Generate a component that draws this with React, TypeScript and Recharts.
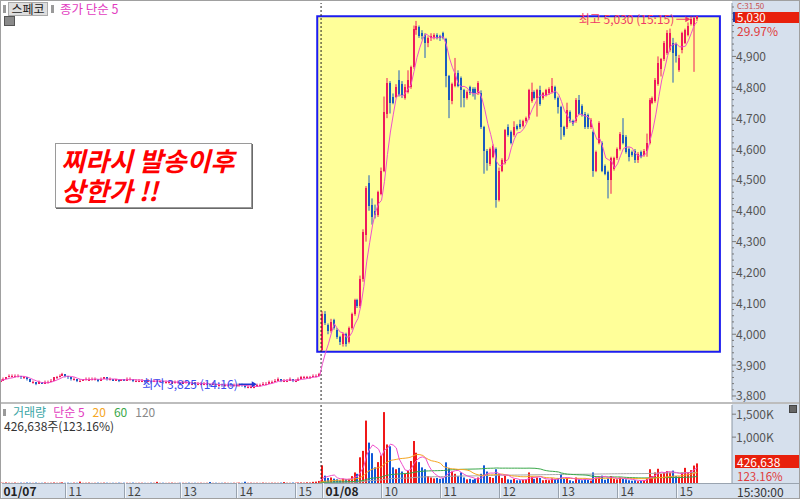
import React from "react";
import {
  Bar,
  ComposedChart,
  Line,
  ReferenceArea,
  ReferenceDot,
  ReferenceLine,
  XAxis,
  YAxis,
} from "recharts";

// 3-minute candles as [open, high, low, close]; 01/07 is a thin session (no trade in some slots)
const day1Bars = [
  [3845, 3855, 3845, 3850], [3850, 3860, 3850, 3855], [3855, 3860, 3855, 3860], [3860, 3870, 3860, 3865], [3865, 3870, 3860, 3865],
  [3860, 3870, 3860, 3865], [3865, 3870, 3860, 3865], [3865, 3865, 3855, 3860], [3860, 3865, 3855, 3860], [3860, 3860, 3850, 3855],
  [3855, 3855, 3845, 3845], [3845, 3850, 3840, 3845], [3845, 3845, 3835, 3840], [3840, 3850, 3840, 3845], [3845, 3845, 3840, 3840],
  [3840, 3850, 3840, 3845], [3845, 3850, 3840, 3845], [3845, 3855, 3845, 3850], [3850, 3860, 3850, 3860], [3860, 3865, 3855, 3860],
  [3860, 3870, 3860, 3865], [3865, 3875, 3865, 3870], [3870, 3870, 3860, 3865], [3865, 3865, 3855, 3860], [3860, 3860, 3850, 3855],
  [3855, 3860, 3850, 3855], [3855, 3855, 3845, 3850], [3850, 3855, 3845, 3850], [3850, 3855, 3850, 3855], [3855, 3860, 3850, 3855],
  [3850, 3860, 3850, 3855], [3855, 3860, 3850, 3855], [3855, 3860, 3850, 3855], [3855, 3855, 3845, 3850], [3850, 3860, 3850, 3855],
  [3855, 3860, 3855, 3860], [3860, 3860, 3850, 3855], [3855, 3860, 3850, 3855], [3855, 3855, 3850, 3850], [3850, 3855, 3850, 3855],
  [3855, 3855, 3845, 3850], [3850, 3855, 3850, 3855], [3855, 3855, 3850, 3850], [3850, 3860, 3850, 3855], [3855, 3860, 3850, 3855],
  [3855, 3855, 3845, 3850], [3850, 3855, 3845, 3850], [3850, 3855, 3845, 3850], [3850, 3855, 3845, 3850], [3850, 3850, 3840, 3845],
  [3845, 3855, 3845, 3850], [3850, 3850, 3840, 3845], [3845, 3855, 3845, 3850], [3850, 3855, 3845, 3850], [3845, 3850, 3845, 3850],
  [3850, 3850, 3840, 3845], [3845, 3850, 3840, 3845], [3845, 3850, 3840, 3845], [3840, 3850, 3840, 3845], [3845, 3850, 3840, 3845],
  [3845, 3850, 3840, 3845], [3845, 3845, 3835, 3840], [3840, 3850, 3840, 3845], [3845, 3850, 3840, 3845], [3845, 3845, 3835, 3840],
  [3840, 3845, 3835, 3840], [3845, 3845, 3835, 3840], [3840, 3845, 3835, 3840], [3835, 3845, 3835, 3840], [3835, 3845, 3835, 3840],
  [3840, 3845, 3835, 3840], [3840, 3840, 3830, 3835], [3835, 3845, 3835, 3840], [3840, 3840, 3830, 3835], [3835, 3840, 3830, 3835],
  [3840, 3840, 3830, 3835], [3835, 3840, 3830, 3835], [3835, 3840, 3830, 3835], [3840, 3840, 3830, 3835], [3835, 3840, 3830, 3835],
  [3835, 3840, 3830, 3835], [3835, 3840, 3830, 3835], [3840, 3840, 3830, 3835], [3835, 3835, 3825, 3830], [3830, 3835, 3825, 3830],
  [3830, 3835, 3825, 3830], [3830, 3835, 3825, 3830], [3830, 3840, 3830, 3835], [3835, 3840, 3830, 3835], [3835, 3845, 3835, 3840],
  [3840, 3845, 3835, 3840], [3840, 3850, 3840, 3845], [3845, 3850, 3840, 3845], [3845, 3855, 3845, 3850], [3850, 3860, 3850, 3855],
  [3855, 3855, 3845, 3850], [3850, 3855, 3845, 3850], [3850, 3855, 3845, 3850], [3850, 3860, 3850, 3855], [3855, 3855, 3845, 3850],
  [3850, 3855, 3845, 3850], [3850, 3860, 3850, 3855], [3855, 3865, 3855, 3860], [3860, 3865, 3855, 3860], [3860, 3865, 3855, 3860],
  [3860, 3865, 3855, 3860], [3860, 3870, 3860, 3865], [3865, 3870, 3860, 3865], [3865, 3875, 3865, 3870],
];

const day2Bars = [
  [3950, 4075, 3945, 4065], [4065, 4075, 4030, 4035], [4030, 4035, 4000, 4010], [4010, 4050, 4005, 4040], [4045, 4050, 4015, 4020],
  [4015, 4020, 3985, 3990], [3990, 3995, 3965, 3975], [3970, 4005, 3960, 4000], [4000, 4005, 3960, 3970], [3975, 4025, 3970, 4020],
  [4020, 4070, 4015, 4065], [4065, 4115, 4060, 4110], [4110, 4115, 4085, 4090], [4090, 4190, 4085, 4180], [4180, 4340, 4170, 4330],
  [4320, 4480, 4300, 4475], [4490, 4515, 4400, 4415], [4420, 4440, 4355, 4380], [4400, 4420, 4375, 4385], [4385, 4465, 4380, 4460],
  [4455, 4540, 4450, 4530], [4530, 4770, 4525, 4720], [4715, 4830, 4700, 4815], [4815, 4820, 4715, 4750], [4770, 4780, 4745, 4750],
  [4770, 4810, 4765, 4800], [4825, 4855, 4770, 4775], [4810, 4820, 4765, 4775], [4765, 4810, 4760, 4800], [4785, 4855, 4780, 4825],
  [4800, 4870, 4795, 4865], [4865, 5000, 4860, 4990], [4985, 5015, 4970, 5000], [4995, 5000, 4960, 4965], [4975, 4985, 4955, 4965],
  [4970, 4975, 4895, 4945], [4945, 4965, 4930, 4960], [4960, 4975, 4950, 4965], [4960, 4975, 4955, 4970], [4970, 4975, 4955, 4960],
  [4965, 4970, 4950, 4960], [4975, 4980, 4955, 4960], [4955, 4960, 4800, 4835], [4835, 4840, 4700, 4760], [4755, 4815, 4745, 4810],
  [4805, 4895, 4800, 4845], [4845, 4855, 4800, 4805], [4830, 4835, 4735, 4790], [4790, 4795, 4735, 4765], [4765, 4790, 4760, 4785],
  [4800, 4805, 4775, 4780], [4795, 4800, 4770, 4780], [4795, 4800, 4760, 4780], [4780, 4820, 4775, 4815], [4780, 4790, 4665, 4670],
  [4670, 4675, 4520, 4595], [4595, 4600, 4530, 4555], [4550, 4605, 4545, 4600], [4575, 4615, 4570, 4610], [4600, 4605, 4410, 4435],
  [4435, 4540, 4430, 4530], [4530, 4570, 4525, 4565], [4555, 4665, 4550, 4660], [4670, 4680, 4640, 4645], [4655, 4660, 4615, 4620],
  [4645, 4690, 4640, 4670], [4675, 4680, 4660, 4665], [4680, 4695, 4665, 4670], [4675, 4695, 4670, 4690], [4690, 4705, 4685, 4700],
  [4700, 4795, 4695, 4790], [4755, 4815, 4750, 4785], [4785, 4790, 4760, 4765], [4765, 4795, 4705, 4790], [4790, 4805, 4740, 4745],
  [4765, 4785, 4760, 4780], [4775, 4795, 4770, 4790], [4780, 4800, 4775, 4795], [4785, 4830, 4780, 4805], [4800, 4805, 4760, 4765],
  [4765, 4770, 4715, 4735], [4735, 4740, 4630, 4670], [4670, 4675, 4640, 4645], [4670, 4750, 4665, 4725], [4720, 4725, 4685, 4690],
  [4690, 4695, 4675, 4680], [4690, 4765, 4685, 4760], [4760, 4775, 4710, 4715], [4740, 4745, 4705, 4710], [4715, 4720, 4665, 4670],
  [4710, 4715, 4665, 4670], [4670, 4700, 4665, 4695], [4655, 4660, 4510, 4530], [4530, 4595, 4525, 4590], [4620, 4690, 4615, 4685],
  [4620, 4625, 4525, 4530], [4545, 4550, 4515, 4520], [4525, 4530, 4440, 4500], [4500, 4575, 4455, 4570], [4535, 4575, 4530, 4570],
  [4570, 4605, 4565, 4600], [4600, 4655, 4595, 4650], [4645, 4700, 4615, 4620], [4640, 4645, 4585, 4590], [4600, 4605, 4560, 4575],
  [4590, 4595, 4575, 4580], [4595, 4600, 4555, 4565], [4565, 4590, 4555, 4585], [4590, 4595, 4570, 4575], [4580, 4600, 4575, 4595],
  [4595, 4650, 4575, 4620], [4620, 4765, 4615, 4760], [4750, 4770, 4745, 4765], [4755, 4830, 4750, 4825], [4810, 4900, 4805, 4880],
  [4860, 4895, 4835, 4890], [4890, 4950, 4885, 4945], [4910, 4985, 4905, 4975], [4920, 4990, 4915, 4975], [4945, 4960, 4815, 4910],
  [4940, 4945, 4880, 4900], [4855, 4905, 4850, 4895], [4920, 4980, 4910, 4975], [4945, 4990, 4940, 4985], [4970, 5010, 4965, 5000],
  [5005, 5030, 5000, 5020], [5000, 5030, 4850, 5025], [5020, 5030, 5015, 5030],
];

// volume per candle, thousand shares
const day1Volume = [
  8, 5, 12, 6, 4, 9, 3, 7, 5, 10, 6, 4, 8, 3, 5, 9, 4, 6, 11, 5,
  7, 14, 4, 6, 3, 8, 5, 30, 4, 6, 9, 3, 5, 7, 4, 8, 6, 3, 5, 4,
  7, 3, 6, 5, 4, 8, 3, 5, 6, 4, 3, 7, 5, 25, 4, 6, 3, 5, 8, 4,
  3, 6, 5, 4, 7, 3, 5, 4, 6, 3, 5, 22, 4, 6, 3, 5, 7, 4, 3, 6,
  5, 8, 4, 28, 5, 7, 4, 6, 3, 9, 5, 4, 7, 6, 5, 8, 20, 6, 5, 9,
  7, 10, 12, 8, 15, 11, 25, 30, 45,
];
const day2Volume = [
  385, 160, 110, 120, 95, 80, 60, 95, 85, 90, 150, 230, 200, 560, 700, 1360, 880, 650, 340, 455,
  600, 1545, 840, 800, 340, 300, 330, 250, 200, 260, 480, 915, 660, 455, 340, 300, 150, 120, 100, 110,
  90, 110, 450, 330, 250, 200, 150, 230, 120, 80, 90, 70, 90, 120, 200, 385, 250, 130, 110, 300,
  200, 110, 160, 80, 70, 90, 60, 60, 70, 80, 230, 140, 90, 120, 110, 60, 70, 60, 100, 90,
  110, 200, 90, 110, 60, 40, 120, 80, 60, 90, 70, 50, 230, 120, 140, 160, 70, 100, 150, 90,
  80, 120, 90, 80, 60, 50, 60, 40, 50, 60, 110, 300, 150, 230, 310, 200, 230, 260, 230, 270,
  150, 140, 230, 330, 240, 280, 380, 427,
];

const hourTicks = [
  { index: 0, label: "01/07" }, { index: 22, label: "11" }, { index: 42, label: "12" },
  { index: 61, label: "13" }, { index: 80, label: "14" }, { index: 100, label: "15" },
  { index: 109, label: "01/08" }, { index: 129, label: "10" }, { index: 149, label: "11" },
  { index: 169, label: "12" }, { index: 189, label: "13" }, { index: 209, label: "14" },
  { index: 229, label: "15" },
];
const priceLabels = [3800, 3900, 4000, 4100, 4200, 4300, 4400, 4500, 4600, 4700, 4800, 4900];
const volumeLabels = [1000, 1500];

const dayBreak = 108.5;
const day2Start = 109;
const highlight = { from: 107.2, to: 243.7, low: 3943, high: 5030 };
const dayHigh = { index: 234, price: 5030, label: "최고 5,030 (15:15)" };
const dayLow = { index: 85, price: 3825, label: "최저 3,825 (14:16)" };

const X_DOMAIN = [0, 247.8];
const UP = "#ee1a5c";
const DOWN = "#1a5cc0";
const VOL_UP = "#f01818";
const VOL_DOWN = "#1058d8";
const AXIS_BG = "#d6e0ed";
const FONT = "'Noto Sans CJK KR', 'Noto Sans', sans-serif";

const bars = [...day1Bars, ...day2Bars];
const volumes = [...day1Volume, ...day2Volume];
const closes = bars.map((b) => b[3]);

function sma(values: number[], n: number, k: number) {
  const start = Math.max(0, k - n + 1);
  let s = 0;
  for (let j = start; j <= k; j++) s += values[j];
  return s / (k - start + 1);
}

// volume averages sit on the baseline during the thin 01/07 session, so they are only drawn from 01/08
const volAvg = (n: number, i: number) => (i >= day2Start - 1 ? sma(volumes, n, i) : null);

const rows = bars.map(([o, h, l, c], i) => ({
  i,
  o,
  h,
  l,
  c,
  up: c >= o,
  range: [l, h],
  vol: volumes[i],
  ma5: sma(closes, 5, i),
  v5: volAvg(5, i),
  v20: volAvg(20, i),
  v60: volAvg(60, i),
  v120: volAvg(120, i),
}));

const minorTicks: number[] = [];
for (let p = 3800; p <= 5060; p += 20) minorTicks.push(p);

function Candle(props: any) {
  const { x, y, width, height, payload } = props;
  if (!payload || !isFinite(y)) return null;
  const { o, h, l, c, up } = payload;
  const k = height / (h - l);
  const yOf = (v: number) => y + (h - v) * k;
  const bx = Math.round(x + width / 2) - 1;
  const top = Math.round(yOf(Math.max(o, c)));
  const bot = Math.round(yOf(Math.min(o, c)));
  const col = up ? UP : DOWN;
  return (
    <g>
      <line x1={bx + 1} x2={bx + 1} y1={y} y2={y + height} stroke={col} strokeWidth={1} />
      <rect x={bx} y={top} width={2} height={Math.max(1, bot - top)} fill={col} />
    </g>
  );
}

function VolumeBar(props: any) {
  const { x, y, width, height, payload } = props;
  if (!payload || !isFinite(y) || height <= 0) return null;
  const bx = Math.round(x + width / 2) - 1;
  return <rect x={bx} y={y} width={2} height={height} fill={payload.up ? VOL_UP : VOL_DOWN} />;
}

function PriceTick({ x, y, payload }: any) {
  const v = payload.value as number;
  const major = priceLabels.includes(v);
  return (
    <g>
      <line x1={x} x2={x + (major ? 4 : 2)} y1={y} y2={y} stroke="#777" />
      {major && (
        <text x={x + 4} y={y + 4.5} fontSize={12} fill="#555">
          {v.toLocaleString("en-US")}
        </text>
      )}
    </g>
  );
}

function VolumeTick({ x, y, payload }: any) {
  return (
    <g>
      <line x1={x} x2={x + 4} y1={y} y2={y} stroke="#777" />
      <text x={x + 4} y={y + 4.5} fontSize={12} fill="#555">
        {payload.value.toLocaleString("en-US")}K
      </text>
    </g>
  );
}

function HourTick({ x, y, payload }: any) {
  const t = hourTicks.find((h) => h.index === payload.value);
  if (!t) return null;
  const lx = Math.round(x) - 0.5;
  const isDate = t.label.includes("/");
  return (
    <g>
      <line x1={lx} x2={lx} y1={y} y2={y + 16} stroke="#98a2ae" />
      <line x1={lx + 1} x2={lx + 1} y1={y} y2={y + 16} stroke="#f4f7fb" />
      <text x={lx + 3} y={y + 13} fontSize={12} fontWeight={isDate ? 700 : 400} fill={isDate ? "#222" : "#444"}>
        {t.label}
      </text>
    </g>
  );
}

function HighMarker({ cx, cy }: any) {
  if (cx == null) return null;
  const ay = cy + 3;
  return (
    <g>
      <text x={cx - 17} y={cy + 8} fontSize={12} fill="#f03a66" textAnchor="end">
        {dayHigh.label}
      </text>
      <line x1={cx - 15} x2={cx - 2} y1={ay} y2={ay} stroke="#f03a66" />
      <path d={`M${cx - 1},${ay} L${cx - 6},${ay - 3} L${cx - 6},${ay + 3} Z`} fill="#f03a66" />
    </g>
  );
}

function LowMarker({ cx, cy }: any) {
  if (cx == null) return null;
  const ay = cy - 4;
  return (
    <g>
      <text x={cx - 14} y={ay + 4.5} fontSize={12} fill="#3a4cf0" textAnchor="end">
        {dayLow.label}
      </text>
      <line x1={cx - 13} x2={cx + 2} y1={ay} y2={ay} stroke="#2236d0" strokeWidth={1.5} />
      <path d={`M${cx + 5},${ay} L${cx},${ay - 3} L${cx},${ay + 3} Z`} fill="#2236d0" />
    </g>
  );
}

function PriceChart() {
  return (
    <ComposedChart width={800} height={402} data={rows} margin={{ top: 3, right: 0, bottom: 2, left: 1 }}>
      <XAxis dataKey="i" type="number" domain={X_DOMAIN} hide allowDataOverflow />
      <YAxis
        orientation="right"
        width={68}
        domain={[3787, 5073]}
        allowDataOverflow
        ticks={minorTicks}
        interval={0}
        tick={<PriceTick />}
        tickSize={0}
        tickMargin={0}
        tickLine={false}
        axisLine={{ stroke: "#8a96a4" }}
      />
      <ReferenceArea
        x1={highlight.from}
        x2={highlight.to}
        y1={highlight.low}
        y2={highlight.high}
        fill="#ffff99"
        fillOpacity={1}
        stroke="#1c1cf0"
        strokeWidth={2}
        ifOverflow="visible"
      />
      <ReferenceLine x={dayBreak} stroke="#222" strokeDasharray="2 2" />
      <Bar dataKey="range" barSize={2} shape={<Candle />} isAnimationActive={false} />
      <Line dataKey="ma5" stroke="#f050cc" strokeWidth={1} dot={false} activeDot={false} isAnimationActive={false} />
      <ReferenceDot x={dayHigh.index} y={dayHigh.price} r={1} ifOverflow="visible" shape={(p: any) => <HighMarker {...p} />} />
      <ReferenceDot x={dayLow.index} y={dayLow.price} r={1} ifOverflow="visible" shape={(p: any) => <LowMarker {...p} />} />
    </ComposedChart>
  );
}

function VolumeChart() {
  return (
    <ComposedChart width={800} height={96} data={rows} margin={{ top: 2, right: 0, bottom: 0, left: 1 }}>
      <XAxis
        dataKey="i"
        type="number"
        domain={X_DOMAIN}
        allowDataOverflow
        ticks={hourTicks.map((t) => t.index)}
        interval={0}
        height={16}
        tick={<HourTick />}
        tickSize={0}
        tickMargin={0}
        tickLine={false}
        axisLine={false}
      />
      <YAxis
        orientation="right"
        width={68}
        domain={[0, 1700]}
        allowDataOverflow
        ticks={volumeLabels}
        interval={0}
        tick={<VolumeTick />}
        tickSize={0}
        tickMargin={0}
        tickLine={false}
        axisLine={{ stroke: "#8a96a4" }}
      />
      <ReferenceLine x={dayBreak} stroke="#222" strokeDasharray="2 2" />
      <Bar dataKey="vol" barSize={2} shape={<VolumeBar />} isAnimationActive={false} />
      <Line dataKey="v120" stroke="#a8a8a8" strokeWidth={1} dot={false} activeDot={false} isAnimationActive={false} />
      <Line dataKey="v60" stroke="#3aa84a" strokeWidth={1} dot={false} activeDot={false} isAnimationActive={false} />
      <Line dataKey="v20" stroke="#f5a623" strokeWidth={1} dot={false} activeDot={false} isAnimationActive={false} />
      <Line dataKey="v5" stroke="#f050cc" strokeWidth={1} dot={false} activeDot={false} isAnimationActive={false} />
    </ComposedChart>
  );
}

const abs = (left: number, top: number, extra: React.CSSProperties = {}): React.CSSProperties => ({
  position: "absolute",
  left,
  top,
  whiteSpace: "nowrap",
  ...extra,
});

export default function App() {
  return (
    <div style={{ position: "absolute", left: 0, top: 0, width: 800, height: 499, background: "#fff", overflow: "hidden", fontFamily: FONT, fontSize: 12 }}>
      {/* axis backgrounds */}
      <div style={abs(732, 0, { width: 68, height: 499, background: AXIS_BG })} />
      <div style={abs(0, 483, { width: 800, height: 16, background: AXIS_BG, borderTop: "1px solid #9aa4b0", boxSizing: "border-box" })} />

      <div style={abs(0, 0)}>
        <PriceChart />
      </div>
      <div style={abs(0, 402, { width: 800, height: 2, background: "#bdbdbd" })} />
      <div style={abs(0, 403)}>
        <VolumeChart />
      </div>

      {/* top-left title bar */}
      <div style={abs(3, 5, { width: 3, height: 8, background: "#9a9a9a" })} />
      <div style={abs(8, 2, { width: 40, height: 14, background: "#dedede", border: "1px solid #aaa", boxSizing: "border-box", fontSize: 12, lineHeight: "12px", color: "#222", textAlign: "center" })}>
        스페코
      </div>
      <div style={abs(51, 5, { width: 3, height: 8, background: "#9a9a9a" })} />
      <div style={abs(60, 1, { color: "#e23cc0", fontSize: 12.5, lineHeight: "16px" })}>종가 단순 5</div>
      <div style={abs(4, 16, { width: 11, height: 10, background: "#8a8a8a", border: "1px solid #555", boxSizing: "border-box" })} />

      {/* right side price values */}
      <div style={abs(737, 1, { color: "#c85050", fontSize: 8, lineHeight: "9px" })}>C:31.50</div>
      <div style={abs(733, 12, { width: 2, height: 10, background: "#2a3aa0" })} />
      <div style={abs(735, 12, { width: 65, height: 11, background: "#e8200c", color: "#fff", fontSize: 11.5, lineHeight: "11px", paddingLeft: 2 })}>5,030</div>
      <div style={abs(737, 25, { color: "#e03a3a", fontSize: 12, lineHeight: "12px" })}>29.97%</div>

      {/* volume legend */}
      <div style={abs(3, 409, { width: 3, height: 7, background: "#9a9a9a" })} />
      <div style={abs(13, 405, { fontSize: 12, lineHeight: "13px" })}>
        <span style={{ color: "#3aa6a6" }}>거래량</span>
        <span style={{ color: "#e23cc0", marginLeft: 7 }}>단순 5</span>
        <span style={{ color: "#f5a623", marginLeft: 8 }}>20</span>
        <span style={{ color: "#3aa84a", marginLeft: 8 }}>60</span>
        <span style={{ color: "#888", marginLeft: 8 }}>120</span>
      </div>
      <div style={abs(4, 419, { color: "#333", fontSize: 12, lineHeight: "13px" })}>426,638주(123.16%)</div>
      <div style={abs(789, 405, { width: 8, height: 8, background: "#666", border: "1px solid #444", boxSizing: "border-box" })} />
      <div style={abs(735, 455, { width: 65, height: 13, background: "#e8200c", color: "#fff", fontSize: 12, lineHeight: "13px", paddingLeft: 2 })}>426,638</div>
      <div style={abs(737, 470, { color: "#e03a3a", fontSize: 11.5, lineHeight: "12px" })}>123.16%</div>
      <div style={abs(737, 484, { color: "#333", fontSize: 12, lineHeight: "15px" })}>15:30:00</div>

      {/* callout */}
      <div
        style={abs(55, 143, {
          width: 197,
          height: 65,
          background: "#fff",
          border: "1px solid #9a9a9a",
          boxShadow: "1px 1px 0 #6a6a6a",
          boxSizing: "border-box",
          color: "#ff0000",
          fontSize: 26,
          fontWeight: 700,
          fontStyle: "italic",
          lineHeight: "30px",
          padding: "1px 0 0 5px",
        })}
      >
        찌라시 발송이후
        <br />
        상한가 !!
      </div>

      <div style={abs(0, 0, { width: 800, height: 499, border: "1px solid #a0a0a0", boxSizing: "border-box", pointerEvents: "none" })} />
    </div>
  );
}
